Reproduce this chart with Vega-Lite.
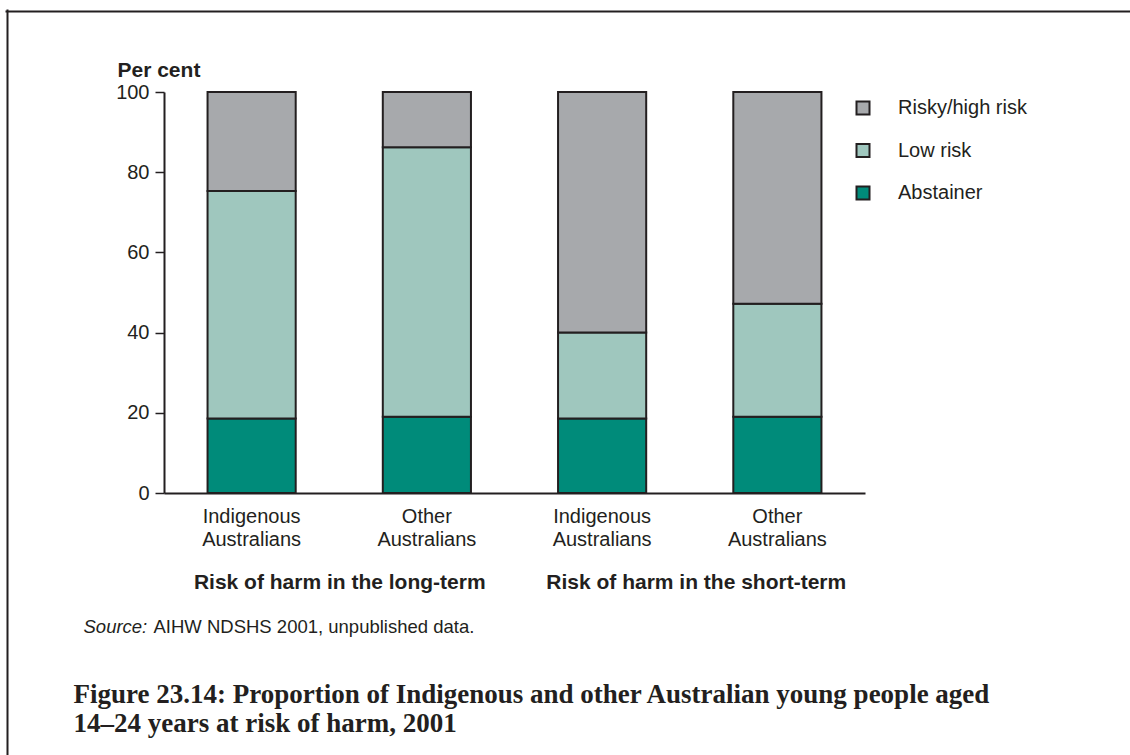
{
  "$schema": "https://vega.github.io/schema/vega-lite/v6.json",
  "width": 1123,
  "height": 744,
  "autosize": {"type": "none"},
  "padding": {"left": 7, "top": 11, "right": 0, "bottom": 0},
  "background": "white",
  "config": {
    "font": "Liberation Sans",
    "view": {"stroke": null},
    "axis": {"labelColor": "#231f20", "titleColor": "#231f20", "domainColor": "#231f20", "tickColor": "#231f20", "grid": false}
  },
  "datasets": {
    "shares": [
      {"bar": "Indigenous Australians, long-term", "category": "Abstainer", "value": 18.6},
      {"bar": "Indigenous Australians, long-term", "category": "Low risk", "value": 56.7},
      {"bar": "Indigenous Australians, long-term", "category": "Risky/high risk", "value": 24.7},
      {"bar": "Other Australians, long-term", "category": "Abstainer", "value": 19.0},
      {"bar": "Other Australians, long-term", "category": "Low risk", "value": 67.2},
      {"bar": "Other Australians, long-term", "category": "Risky/high risk", "value": 13.8},
      {"bar": "Indigenous Australians, short-term", "category": "Abstainer", "value": 18.6},
      {"bar": "Indigenous Australians, short-term", "category": "Low risk", "value": 21.4},
      {"bar": "Indigenous Australians, short-term", "category": "Risky/high risk", "value": 60.0},
      {"bar": "Other Australians, short-term", "category": "Abstainer", "value": 19.0},
      {"bar": "Other Australians, short-term", "category": "Low risk", "value": 28.2},
      {"bar": "Other Australians, short-term", "category": "Risky/high risk", "value": 52.8}
    ],
    "groups": [
      {"group": "Risk of harm in the long-term"},
      {"group": "Risk of harm in the short-term"}
    ]
  },
  "layer": [
    {
      "data": {"name": "shares"},
      "mark": {"type": "bar", "stroke": "#231f20", "strokeWidth": 2},
      "encoding": {
        "x": {
          "field": "bar",
          "type": "nominal",
          "sort": ["Indigenous Australians, long-term", "Other Australians, long-term", "Indigenous Australians, short-term", "Other Australians, short-term"],
          "scale": {"range": [157, 858], "paddingInner": 0.497, "paddingOuter": 0.2485},
          "axis": {
            "orient": "bottom",
            "offset": -262,
            "ticks": false,
            "domainWidth": 2,
            "labelAngle": 0,
            "labelFontSize": 20,
            "labelPadding": 13,
            "labelLineHeight": 23,
            "labelExpr": "split(split(datum.label, ',')[0], ' ')",
            "title": "Source:",
            "titleX": 76,
            "titleY": 139,
            "titleAlign": "left",
            "titleAnchor": "start",
            "titleBaseline": "alphabetic",
            "titleFontWeight": "normal",
            "titleFontStyle": "italic",
            "titleFontSize": 18.5,
            "titleAngle": 0
          }
        },
        "y": {
          "field": "value",
          "type": "quantitative",
          "stack": "zero",
          "scale": {"domain": [0, 100], "range": [482, 81], "nice": false},
          "axis": {
            "orient": "left",
            "offset": -157,
            "values": [0, 20, 40, 60, 80, 100],
            "domainWidth": 2,
            "tickSize": 9,
            "tickWidth": 1.5,
            "labelFontSize": 20,
            "labelPadding": 6,
            "title": "Per cent",
            "titleAngle": 0,
            "titleX": -47,
            "titleY": 65,
            "titleAlign": "left",
            "titleBaseline": "alphabetic",
            "titleFontSize": 21,
            "titleFontWeight": "bold"
          }
        },
        "color": {
          "field": "category",
          "type": "nominal",
          "scale": {"domain": ["Risky/high risk", "Low risk", "Abstainer"], "range": ["#a7a9ac", "#9fc7be", "#008b7a"]},
          "legend": {
            "orient": "none",
            "legendX": 846,
            "legendY": 87,
            "title": null,
            "padding": 0,
            "symbolType": "square",
            "symbolSize": 169,
            "symbolStrokeColor": "#231f20",
            "symbolStrokeWidth": 2,
            "symbolOpacity": 1,
            "labelFontSize": 20,
            "labelColor": "#231f20",
            "labelOffset": 25,
            "labelLimit": 300,
            "rowPadding": 20.5
          }
        },
        "order": {"field": "category", "sort": "ascending"}
      }
    },
    {
      "data": {"name": "groups"},
      "mark": {"type": "text", "opacity": 0},
      "encoding": {
        "text": {"field": "group"},
        "x": {
          "field": "group",
          "type": "nominal",
          "scale": {"range": [154, 867], "paddingInner": 0, "paddingOuter": 0},
          "axis": {
            "orient": "bottom",
            "offset": -262,
            "domain": false,
            "ticks": false,
            "labelAngle": 0,
            "labelFontSize": 21,
            "labelFontWeight": "bold",
            "labelLimit": 500,
            "labelPadding": 78,
            "title": ["Figure 23.14: Proportion of Indigenous and other Australian young people aged", "14–24 years at risk of harm, 2001"],
            "titleFont": "Liberation Serif",
            "titleFontSize": 27,
            "titleFontWeight": "bold",
            "titleLineHeight": 29,
            "titleX": 66,
            "titleY": 209,
            "titleAlign": "left",
            "titleAnchor": "start",
            "titleBaseline": "alphabetic",
            "titleAngle": 0,
            "titleLimit": 1100
          }
        }
      }
    },
    {
      "data": {"name": "groups"},
      "mark": {"type": "text", "opacity": 0},
      "encoding": {
        "text": {"field": "group"},
        "x": {
          "field": "group",
          "type": "nominal",
          "scale": {"range": [154, 867]},
          "axis": {
            "orient": "bottom",
            "offset": -262,
            "domain": false,
            "ticks": false,
            "labels": false,
            "title": "AIHW NDSHS 2001, unpublished data.",
            "titleX": 146,
            "titleY": 139,
            "titleAlign": "left",
            "titleAnchor": "start",
            "titleBaseline": "alphabetic",
            "titleFontWeight": "normal",
            "titleFontSize": 18.5,
            "titleAngle": 0,
            "titleLimit": 600
          }
        }
      }
    },
    {
      "data": {"name": "groups"},
      "mark": {"type": "text", "opacity": 0},
      "encoding": {
        "text": {"field": "group"},
        "x": {
          "field": "group",
          "type": "nominal",
          "scale": {"range": [-1, 1130]},
          "axis": {
            "orient": "top",
            "offset": 0,
            "domainWidth": 2,
            "domainCap": "square",
            "ticks": false,
            "labels": false,
            "title": null
          }
        },
        "y": {
          "field": "group",
          "type": "nominal",
          "scale": {"range": [-1, 760]},
          "axis": {
            "orient": "left",
            "offset": 0,
            "domainWidth": 2,
            "domainCap": "square",
            "ticks": false,
            "labels": false,
            "title": null
          }
        }
      }
    }
  ],
  "resolve": {"scale": {"x": "independent", "y": "independent"}, "axis": {"x": "independent", "y": "independent"}}
}
